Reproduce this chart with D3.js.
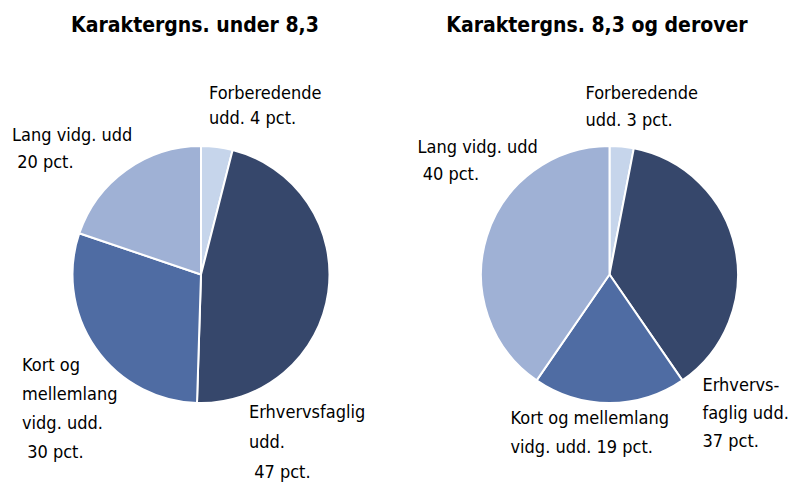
<!DOCTYPE html>
<html>
<head>
<meta charset="utf-8">
<script src="https://cdn.jsdelivr.net/npm/d3@7"></script>
<style>
  body { margin: 0; background: #fff; }
  svg { display: block; }
  text { font-family: "DejaVu Sans Condensed", "DejaVu Sans", sans-serif; font-stretch: condensed; fill: #000; }
  .title { font-weight: bold; font-size: 21px; }
  .lbl { font-size: 18px; }
</style>
</head>
<body>
<svg id="chart"></svg>
<script>
const categories = ["Forberedende", "Erhvervsfaglig", "Kort og mellemlang", "Lang vidg. udd"];
const under83 = [4, 47, 30, 20];
const over83 = [3, 37, 19, 40];
const titles = ["Karaktergns. under 8,3", "Karaktergns. 8,3 og derover"];
const labelsUnder = [
  ["Forberedende", "udd. 4 pct."],
  ["Erhvervsfaglig", "udd.", " 47 pct."],
  ["Kort og", "mellemlang", "vidg. udd.", " 30 pct."],
  ["Lang vidg. udd", " 20 pct."]
];
const labelsOver = [
  ["Forberedende", "udd. 3 pct."],
  ["Erhvervs-", "faglig udd.", "37 pct."],
  ["Kort og mellemlang", "vidg. udd. 19 pct."],
  ["Lang vidg. udd", " 40 pct."]
];

const w = 790, h = 482;
const colors = ["#c6d5eb", "#36476b", "#4f6ca3", "#9fb1d5"];
const color = d3.scaleOrdinal().domain(categories).range(colors);
const r = 128.5;

// label anchors relative to pie centre (first line baseline)
const panels = [
  { values: under83, labels: labelsUnder, title: titles[0], cx: 201, cy: 274.5, tx: 195,
    anchors: [[8, -176], [48, 143], [-179, 96], [-189, -134]], spacing: [25, 30, 29, 27] },
  { values: over83, labels: labelsOver, title: titles[1], cx: 609.5, cy: 274.5, tx: 597,
    anchors: [[-24, -176], [93, 116], [-99, 149], [-192, -122]], spacing: [27, 28, 29, 27] }
];

const svg = d3.select("#chart").attr("width", w).attr("height", h);
const pie = d3.pie().sort(null).value(d => d.v);
const arc = d3.arc().innerRadius(0).outerRadius(r);

panels.forEach(p => {
  svg.append("text")
    .attr("class", "title")
    .attr("x", p.tx)
    .attr("y", 32)
    .attr("text-anchor", "middle")
    .text(p.title);

  const g = svg.append("g").attr("transform", `translate(${p.cx},${p.cy})`);
  const data = categories.map((c, i) => ({ c, v: p.values[i] }));

  g.selectAll("path")
    .data(pie(data))
    .join("path")
    .attr("d", arc)
    .attr("fill", d => color(d.data.c))
    .attr("stroke", "#fff")
    .attr("stroke-width", 2);

  p.labels.forEach((lines, i) => {
    const t = g.append("text")
      .attr("class", "lbl")
      .attr("x", p.anchors[i][0])
      .attr("y", p.anchors[i][1])
      .attr("xml:space", "preserve");
    lines.forEach((ln, j) => {
      t.append("tspan")
        .attr("x", p.anchors[i][0])
        .attr("y", p.anchors[i][1] + j * p.spacing[i])
        .text(ln);
    });
  });
});
</script>
</body>
</html>
